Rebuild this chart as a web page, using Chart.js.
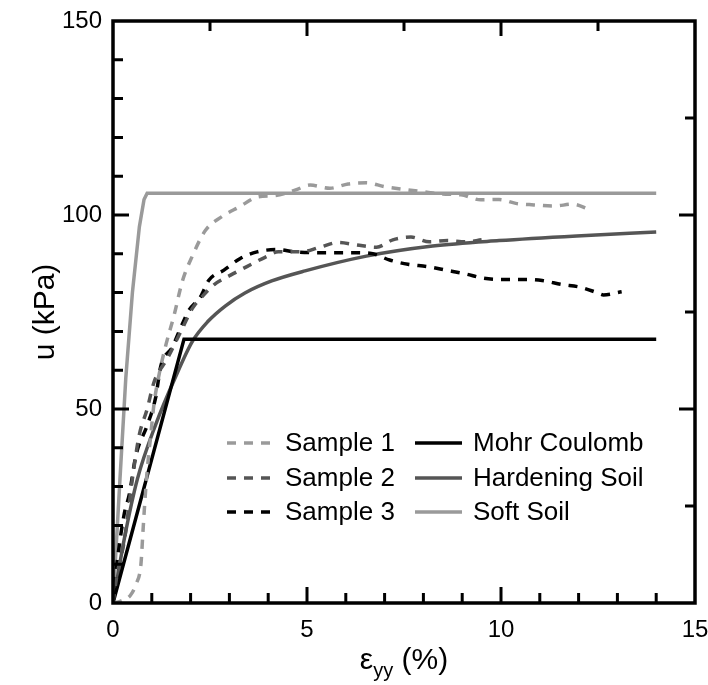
<!DOCTYPE html>
<html>
<head>
<meta charset="utf-8">
<script src="https://cdn.jsdelivr.net/npm/chart.js@4.4.1/dist/chart.umd.min.js"></script>
<style>
  html, body { margin: 0; padding: 0; background: #fff; }
  #wrap { width: 708px; height: 685px; }
</style>
</head>
<body>
<div id="wrap"><canvas id="chart" width="708" height="685"></canvas></div>
<script>
// values
const xTicks = [0, 5, 10, 15];
const yTicks = [0, 50, 100, 150];

const sample1X = [0, 0.2, 0.45, 0.6, 0.72, 0.77, 0.82, 0.88, 0.97, 1.06, 1.19, 1.35, 1.57, 1.79, 2.04, 2.38, 2.81, 3.24, 3.75, 4.18, 4.69, 5.08, 5.59, 6.06, 6.53, 7.0, 7.51, 7.98, 8.5, 8.97, 9.48, 9.95, 10.38, 10.85, 11.36, 11.85, 12.26];
const sample1U = [0, 0.5, 2, 5, 10, 18, 26, 34, 43, 51.5, 59, 66, 74, 83, 89.3, 96, 99.6, 102, 104.7, 105, 106.4, 107.7, 106.9, 108, 108.3, 107.3, 106.6, 106, 105.4, 105.2, 103.9, 104, 103, 102.6, 102.3, 102.8, 101.5];

const sample2X = [0, 0.1, 0.29, 0.5, 0.67, 0.88, 1.06, 1.4, 1.75, 2.05, 2.3, 2.6, 3.03, 3.45, 3.92, 4.26, 4.86, 5.33, 5.8, 6.27, 6.79, 7.21, 7.68, 8.15, 8.62, 9.09, 9.5];
const sample2U = [0, 7, 16, 32, 43, 50, 57, 63, 70, 76, 79, 82, 84.5, 86.7, 89.1, 90.5, 90.5, 91.7, 92.9, 92.3, 91.7, 93.6, 94.3, 93.1, 93.4, 93.1, 93.6];

const sample3X = [0, 0.1, 0.29, 0.42, 0.59, 0.89, 1.1, 1.23, 1.53, 1.79, 1.96, 2.26, 2.47, 2.86, 3.28, 3.71, 4.22, 4.69, 5.16, 5.68, 6.19, 6.66, 7.13, 7.6, 8.11, 8.58, 9.09, 9.56, 10.08, 10.59, 11.06, 11.57, 12.04, 12.47, 12.64, 13.11];
const sample3U = [0, 10, 23, 28, 38, 46, 53, 61, 66, 72, 75.5, 79, 83.2, 85.8, 88.8, 90.5, 91.1, 90.5, 90.3, 90.3, 90.3, 90.1, 88.4, 87.3, 86.7, 85.8, 84.8, 83.7, 83.4, 83.4, 83.1, 82.1, 81.4, 80, 79.4, 80.2];

const mohrX = [0, 1.83, 14];
const mohrU = [0, 68, 68];

const hardX = [0, 0.3, 0.63, 1.1, 1.6, 2.05, 2.45, 2.9, 3.4, 4.09, 4.95, 6.53, 8.24, 9.95, 11.95, 14];
const hardU = [0, 17, 32, 46, 58, 67.5, 72.6, 76.6, 79.9, 83.0, 85.6, 89.4, 92, 93.4, 94.6, 95.6];

const softX = [0, 0.18, 0.33, 0.5, 0.68, 0.8, 0.88, 14];
const softU = [0, 32, 58, 80, 97, 104, 105.6, 105.6];

const FONT = '"Liberation Sans", Arial, sans-serif';

function toPoints(xs, ys) {
    return xs.map((x, i) => ({ x: x, y: ys[i] }));
}

function makeSeries(label, xs, ys, color, dashed, smooth) {
    return {
        label: label,
        data: toPoints(xs, ys),
        borderColor: color,
        borderWidth: 3.5,
        borderDash: dashed ? [9, 8] : [],
        borderCapStyle: 'butt',
        pointRadius: 0,
        showLine: true,
        fill: false,
        tension: smooth ? 0.3 : 0,
        cubicInterpolationMode: smooth ? 'monotone' : 'default'
    };
}

// рамка, засечки внутрь, подписи и легенда
const framePlugin = {
    id: 'frame',
    afterDraw(chart) {
        const ctx = chart.ctx;
        const a = chart.chartArea;
        const xs = chart.scales.x;
        const ys = chart.scales.y;
        ctx.save();

        ctx.strokeStyle = '#000';
        ctx.lineWidth = 3;
        ctx.lineCap = 'butt';
        ctx.beginPath();
        for (let v = 1; v < 15; v += 1) {
            const px = xs.getPixelForValue(v);
            const len = v % 5 === 0 ? 16 : 10;
            ctx.moveTo(px, a.bottom);
            ctx.lineTo(px, a.bottom - len);
        }
        for (let v = 2.5; v < 15; v += 2.5) {
            const px = xs.getPixelForValue(v);
            const len = v % 5 === 0 ? 15 : 10;
            ctx.moveTo(px, a.top);
            ctx.lineTo(px, a.top + len);
        }
        for (let v = 10; v < 150; v += 10) {
            const py = ys.getPixelForValue(v);
            const len = v % 50 === 0 ? 16 : 10;
            ctx.moveTo(a.left, py);
            ctx.lineTo(a.left + len, py);
        }
        for (let v = 25; v < 150; v += 25) {
            const py = ys.getPixelForValue(v);
            const len = v % 50 === 0 ? 16 : 10;
            ctx.moveTo(a.right, py);
            ctx.lineTo(a.right - len, py);
        }
        ctx.stroke();

        ctx.lineWidth = 3.5;
        ctx.lineJoin = 'miter';
        ctx.strokeRect(a.left, a.top, a.right - a.left, a.bottom - a.top);

        // tick labels
        ctx.fillStyle = '#000';
        ctx.font = '24px ' + FONT;
        ctx.textAlign = 'center';
        ctx.textBaseline = 'middle';
        xTicks.forEach(v => ctx.fillText(String(v), xs.getPixelForValue(v), a.bottom + 27));
        ctx.textAlign = 'right';
        yTicks.forEach(v => ctx.fillText(String(v), a.left - 11, ys.getPixelForValue(v)));

        // axis titles
        ctx.font = '30px ' + FONT;
        ctx.save();
        ctx.translate(46, (a.top + a.bottom) / 2);
        ctx.rotate(-Math.PI / 2);
        ctx.textAlign = 'center';
        ctx.fillText('u (kPa)', 0, 0);
        ctx.restore();

        const main1 = 'ε';
        const sub = 'yy';
        const main2 = ' (%)';
        ctx.font = '30px ' + FONT;
        const w1 = ctx.measureText(main1).width;
        const w3 = ctx.measureText(main2).width;
        ctx.font = '20px ' + FONT;
        const w2 = ctx.measureText(sub).width;
        let tx = (a.left + a.right) / 2 - (w1 + w2 + w3) / 2;
        const ty = 661;
        ctx.textAlign = 'left';
        ctx.font = '30px ' + FONT;
        ctx.fillText(main1, tx, ty);
        tx += w1;
        ctx.font = '20px ' + FONT;
        ctx.fillText(sub, tx, ty + 10);
        tx += w2;
        ctx.font = '30px ' + FONT;
        ctx.fillText(main2, tx, ty);

        // legend in two columns
        const rows = [443, 478, 512];
        const cols = [{ x0: 227, x1: 275, tx: 285 }, { x0: 415, x1: 462, tx: 473 }];
        ctx.font = '26px ' + FONT;
        chart.data.datasets.forEach((ds, i) => {
            const col = cols[Math.floor(i / 3)];
            const y = rows[i % 3];
            ctx.strokeStyle = ds.borderColor;
            ctx.lineWidth = ds.borderWidth;
            ctx.setLineDash(ds.borderDash);
            ctx.beginPath();
            ctx.moveTo(col.x0, y);
            ctx.lineTo(col.x1, y);
            ctx.stroke();
            ctx.setLineDash([]);
            ctx.fillStyle = '#000';
            ctx.fillText(ds.label, col.tx, y + 1);
        });

        ctx.restore();
    }
};

new Chart(document.getElementById('chart'), {
    type: 'scatter',
    data: {
        datasets: [
            makeSeries('Sample 1', sample1X, sample1U, '#9a9a9a', true, true),
            makeSeries('Sample 2', sample2X, sample2U, '#555555', true, true),
            makeSeries('Sample 3', sample3X, sample3U, '#000000', true, true),
            makeSeries('Mohr Coulomb', mohrX, mohrU, '#000000', false, false),
            makeSeries('Hardening Soil', hardX, hardU, '#555555', false, true),
            makeSeries('Soft Soil', softX, softU, '#9a9a9a', false, false)
        ]
    },
    options: {
        responsive: false,
        animation: false,
        devicePixelRatio: 1,
        layout: { padding: { left: 113, right: 13, top: 21, bottom: 82 } },
        scales: {
            x: { type: 'linear', min: 0, max: 15, display: false },
            y: { type: 'linear', min: 0, max: 150, display: false }
        },
        plugins: {
            legend: { display: false },
            tooltip: { enabled: false }
        }
    },
    plugins: [framePlugin]
});
</script>
</body>
</html>
